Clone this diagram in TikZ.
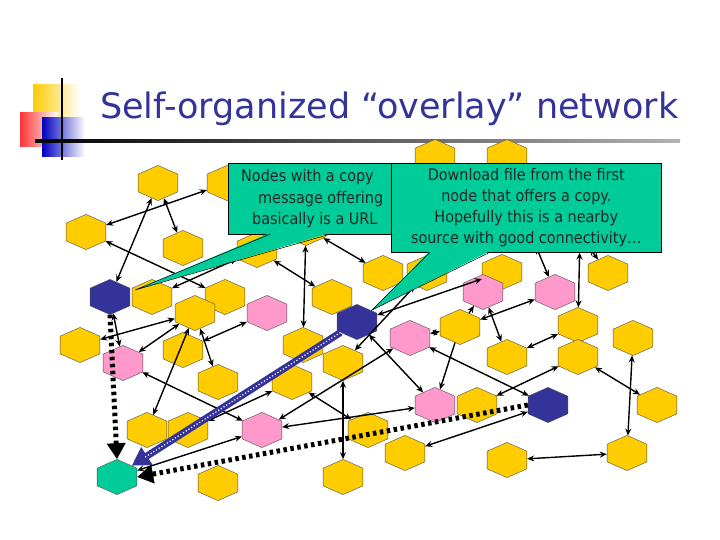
\documentclass[tikz,border=0pt]{standalone}
\usepackage{fontspec}
\setmainfont{DejaVu Sans}
\newfontfamily\cond{DejaVu Sans Condensed}
\usetikzlibrary{shapes.geometric,arrows.meta}
\definecolor{hy}{HTML}{FFCC00}
\definecolor{hp}{HTML}{FF99CC}
\definecolor{hn}{HTML}{333399}
\definecolor{hg}{HTML}{00CC99}
\definecolor{box}{HTML}{00CC99}
\tikzset{
 hex/.style={regular polygon,regular polygon sides=6,shape border rotate=30,minimum size=40pt,inner sep=0pt,draw=black!70,line width=0.4pt,xscale=1.15,yscale=0.88},
 Y/.style={hex,fill=hy}, P/.style={hex,fill=hp}, N/.style={hex,fill=hn}, G/.style={hex,fill=hg},
 lnk/.style={line width=1.4pt,{Stealth[length=7pt,width=6pt]}-{Stealth[length=7pt,width=6pt]}},
 one/.style={line width=1.4pt,-{Stealth[length=7pt,width=6pt]}},
 dsh/.style={line width=5pt,dash pattern=on 3.5pt off 3.5pt,-{Triangle[length=16pt,width=18pt]}},
 callout/.style={fill=box,draw=black,line width=0.5pt},
 ctext/.style={font=\cond\fontsize{16}{21}\selectfont,align=center,text=black!85}
}
\begin{document}
\begin{tikzpicture}[x=1pt,y=-1pt]
\useasboundingbox (0,0) rectangle (720,540);
\fill[white] (0,0) rectangle (720,540);
% decoration
\shade[left color=hy,right color=white] (33,85) rectangle (80,120);
\shade[left color=red!80,right color=white] (20,113) rectangle (58,147);
\shade[left color=blue!75!black,right color=white] (42,118) rectangle (85,157);
\draw[line width=2pt] (62,78) -- (62,160);
\shade[left color=black,right color=black!30] (35,140) rectangle (680,142.5);
\node[anchor=base west,text=hn,font=\fontsize{35}{40}\selectfont,inner sep=0pt] (title) at (100,119) {Self-organized “overlay” network};
% nodes
\foreach \n/\s/\x/\y in {a1/Y/158/183,a2/Y/227/183,a3/Y/306/228,a4/Y/435/157,a5/Y/507/157,a6/Y/530/232,a7/Y/580/235,
 b1/Y/86/232,b2/Y/183/248,b3/Y/257/250,c1/Y/383/273,c2/Y/427/273,c3/Y/502/272,c4/Y/608/273,c5/P/483/292,c6/P/555/292,
 d1/N/110/297,d2/Y/152/297,d3/Y/225/297,d4/Y/332/297,d5/Y/195/313,d6/P/267/313,d7/N/357/322,d8/Y/578/325,d9/Y/460/327,
 e1/Y/80/345,e2/P/123/363,e3/Y/183/350,e4/Y/303/345,e5/Y/343/363,e6/P/410/338,e7/Y/633/338,e8/Y/507/357,e9/Y/578/357,
 f1/Y/218/382,f2/Y/292/382,g1/Y/147/430,g2/Y/188/430,g3/P/262/430,g4/Y/368/430,g5/P/435/405,g6/Y/477/405,g7/N/548/405,g8/Y/657/405,
 h1/G/117/477,h2/Y/218/483,h3/Y/343/477,h4/Y/405/453,h5/Y/507/460,h6/Y/627/453}
 \node[\s] (\n) at (\x,\y) {};
% links
\foreach \p/\q in {a2/b1,a1/d1,a1/b2,b1/d3,b3/d2,b3/d4,a3/e4,a3/c1,a6/c6,a7/d8,a7/c4,d1/e2,e1/d5,d5/e2,d5/g1,d5/f1,e3/d6,e2/g3,f2/g2,f2/g4,g3/g5,e6/g3,e5/h3,h1/g3,d7/c3,d9/c6,c5/e8,e8/d8,c2/e5,d7/g5,d9/e6,e6/g7,g6/e9,e9/g8,e7/h6,h5/h6,g7/h4}
 \draw[lnk] (\p) -- (\q);
\draw[one] (d9) -- (g5);
\draw[one] (d9) -- (c5);
% special
\draw[dsh] (d1.south) -- (h1.north);
\draw[dsh] (g7.west) -- (h1.east);
\draw[hn,line width=7pt,-{Triangle[length=18pt,width=20pt]}] (d7) -- (h1.north east);
\draw[white,line width=1.2pt,dotted,shorten >=16pt] (d7) -- (h1.north east);
% callouts
\coordinate (p1) at (135,290);
\coordinate (p2) at (372,310);
\node[callout,minimum width=170pt,minimum height=71pt,anchor=north west,inner sep=0pt] (box1) at (228,163) {};
\fill[box] (270,233) -- (330,233) -- (p1) -- cycle;
\draw[line width=0.5pt] (270,234.2) -- (p1) -- (330,234.2);
\node[anchor=west,ctext,inner sep=0pt] (t1) at (241,177) {Nodes with a copy};
\node[anchor=west,ctext,inner sep=0pt] (t2) at (258,199) {message offering};
\node[anchor=west,ctext,inner sep=0pt] (t3) at (252,220) {basically is a URL};
\node[callout,minimum width=270pt,minimum height=89pt,anchor=north west,inner sep=0pt,ctext] (box2) at (391,163) {Download file from the first\\node that offers a copy.\\Hopefully this is a nearby\\source with good connectivity…};
\fill[box] (430,251) -- (490,251) -- (p2) -- cycle;
\draw[line width=0.5pt] (430,252.2) -- (p2) -- (490,252.2);
\end{tikzpicture}
\end{document}
